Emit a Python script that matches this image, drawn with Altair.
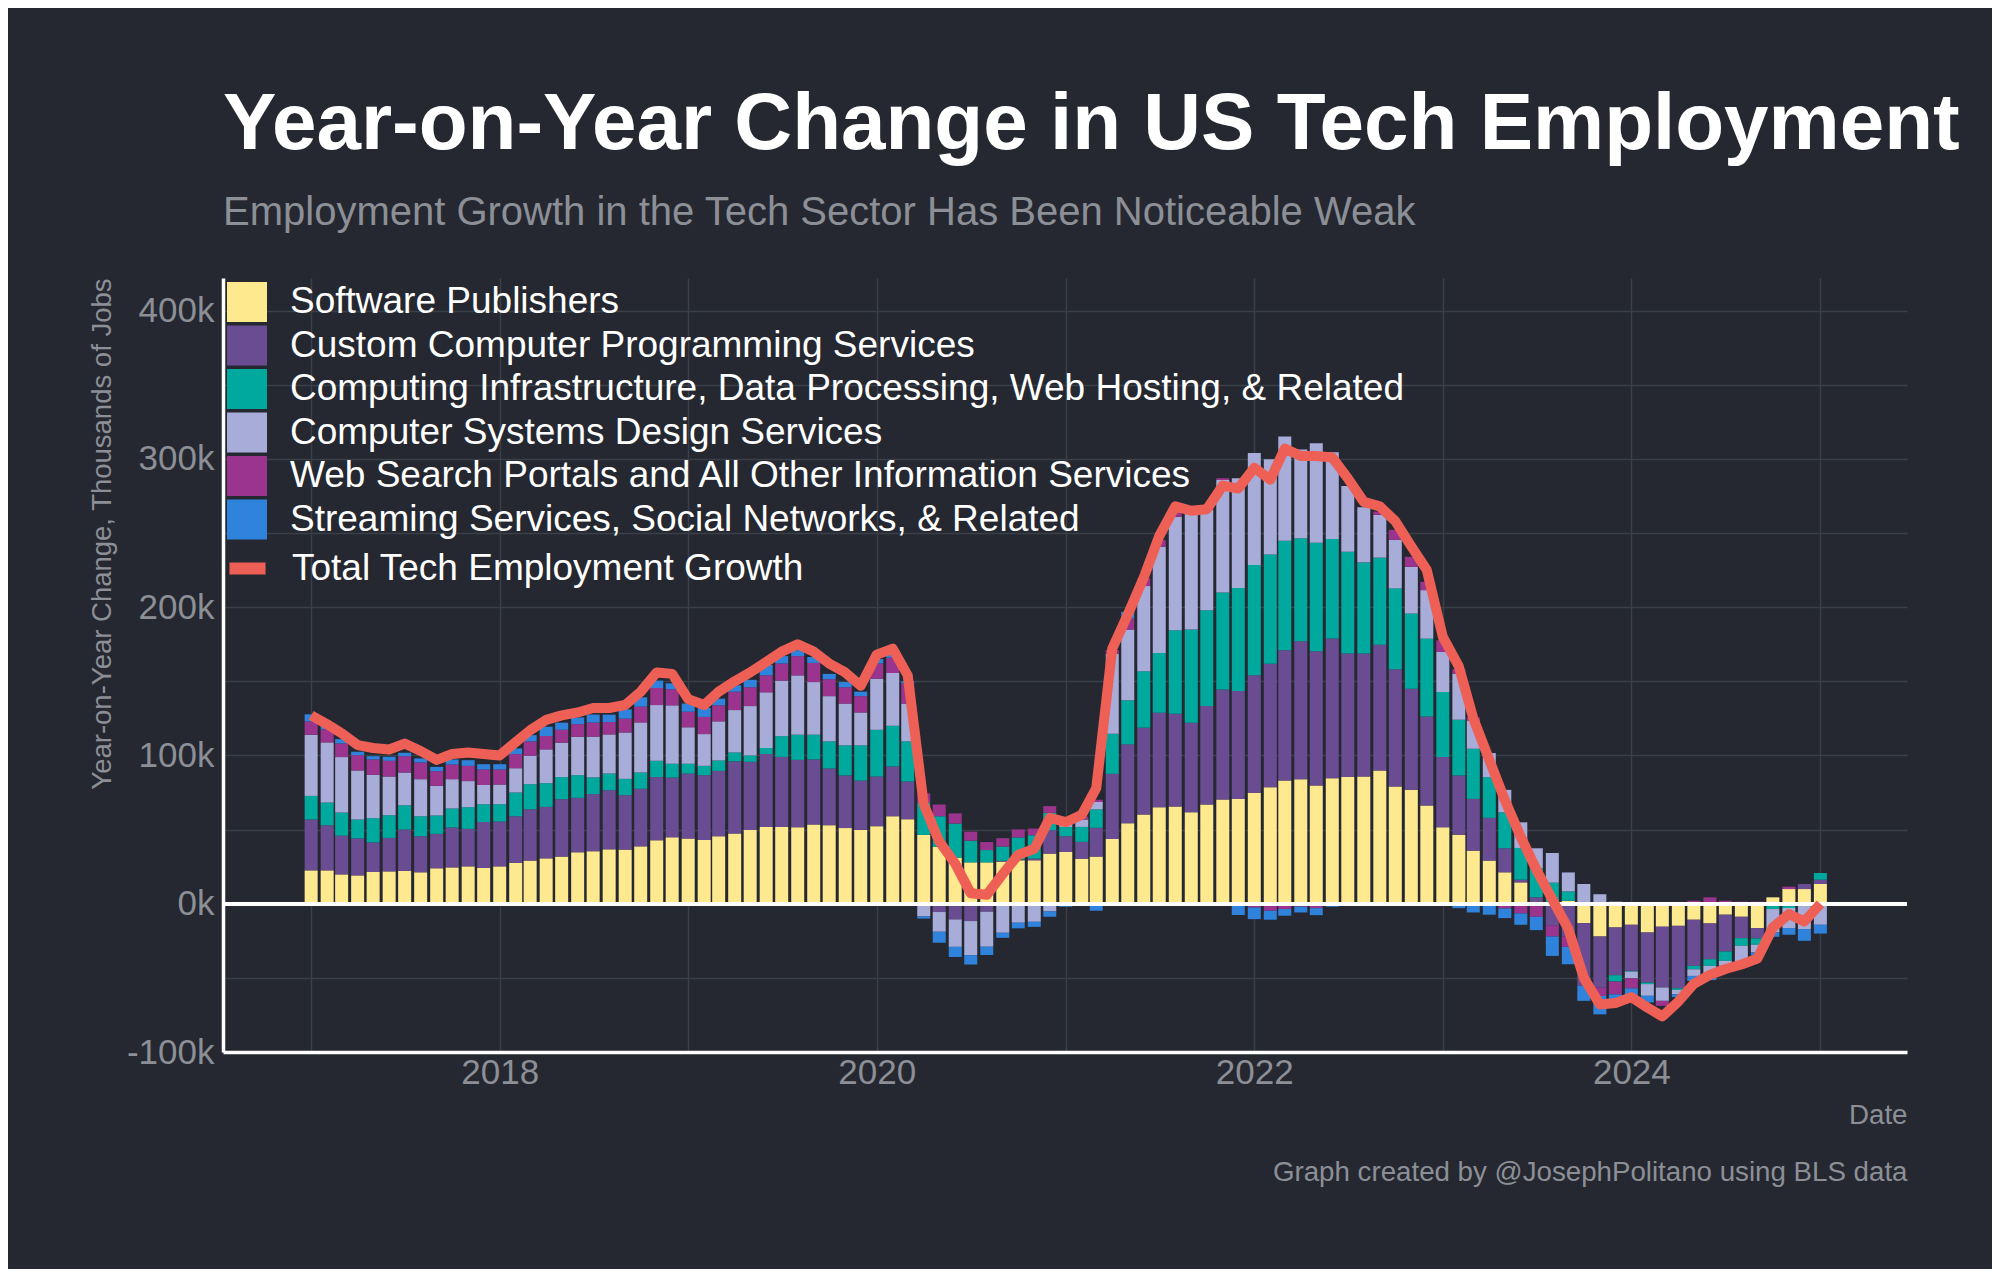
import altair as alt
import pandas as pd

# Monthly observations, Jan 2017 .. Jan 2025
months = pd.date_range("2017-01-01", "2025-01-01", freq="MS").strftime("%Y-%m-%d").tolist()

# Year-on-year change, thousands of jobs
software = [
    22.5, 22.5, 19.8, 19.1, 21.4, 21.8, 22.1, 21.2, 23.9, 24.5, 25.2, 24.1,
    25.2, 27.5, 29.1, 30.6, 31.8, 34.7, 35.4, 36.7, 36.5, 38.7, 42.8, 44.8,
    44.0, 43.0, 45.5, 47.3, 49.8, 51.8, 51.8, 51.6, 53.4, 53.0, 51.0, 49.8,
    52.3, 59.0, 57.0, 46.4, 38.3, 31.1, 27.9, 27.9, 28.4, 29.3, 29.3, 33.8,
    34.9, 30.4, 31.8, 43.7, 54.3, 60.1, 65.1, 65.5, 61.7, 66.9, 70.3, 70.7,
    74.8, 78.6, 83.1, 84.0, 79.7, 84.7, 85.4, 85.8, 89.9, 79.1, 76.8, 66.2,
    51.6, 46.6, 35.8, 29.1, 21.2, 14.4, 1.4, 0.5, 2.0, -13.1, -22.1, -16.0,
    -14.2, -19.4, -15.5, -14.9, -10.8, -13.3, -7.4, -8.8, -16.4, 4.3, 9.9, 9.9,
    13.3,
]
custom_programming = [
    34.3, 30.4, 26.1, 25.0, 20.0, 22.6, 27.9, 24.3, 23.2, 26.9, 25.3, 31.1,
    30.2, 31.5, 34.6, 34.7, 38.7, 36.7, 38.5, 39.9, 36.7, 38.8, 42.6, 40.3,
    43.8, 43.7, 44.1, 48.7, 45.9, 49.2, 47.2, 45.4, 43.9, 38.2, 35.5, 33.2,
    33.5, 33.6, 25.4, -1.5, -5.6, -10.6, -11.7, -5.4, 0.5, 0.5, 1.1, 15.8,
    10.6, 11.3, 19.4, 43.9, 53.2, 58.6, 63.7, 62.6, 60.4, 66.4, 74.1, 72.7,
    79.3, 83.3, 87.8, 93.0, 90.5, 94.1, 83.3, 82.9, 84.7, 79.1, 68.2, 60.1,
    47.3, 39.9, 34.9, 28.8, 16.2, 1.8, 2.9, -14.9, -22.3, -42.3, -34.5, -32.2,
    -31.1, -33.8, -41.0, -42.1, -31.1, -24.1, -24.8, -14.4, -7.0, 0.0, 0.0, 3.4,
    2.9,
]
infrastructure = [
    15.9, 15.3, 15.6, 12.7, 16.3, 15.3, 16.4, 13.5, 12.4, 12.8, 14.6, 11.9,
    11.7, 16.0, 16.9, 16.0, 14.9, 15.3, 11.3, 11.2, 11.0, 11.0, 11.0, 9.3,
    6.6, 6.3, 7.0, 6.0, 4.3, 4.0, 14.0, 17.0, 16.7, 18.3, 20.3, 23.8,
    31.5, 27.4, 27.1, 22.0, 20.7, 23.0, 14.6, 8.3, 9.7, 14.9, 15.8, 11.7,
    6.3, 10.1, 12.4, 27.0, 29.7, 38.1, 40.3, 56.3, 62.8, 64.6, 65.5, 69.6,
    74.3, 73.6, 73.9, 69.4, 73.2, 67.1, 68.7, 61.5, 58.8, 54.5, 50.7, 52.5,
    43.9, 37.6, 33.8, 27.5, 24.3, 21.4, 19.6, 13.7, 6.3, 0.0, 0.5, -4.3,
    -0.5, -1.0, 0.0, -1.1, -2.3, -4.5, -6.3, -5.2, -4.3, -3.6, -2.9, 0.0,
    4.5,
]
systems_design = [
    41.3, 40.6, 37.4, 33.1, 29.2, 26.1, 22.1, 25.0, 20.0, 19.8, 17.6, 12.9,
    13.3, 16.4, 19.2, 22.8, 23.2, 25.9, 27.5, 26.4, 31.3, 33.8, 37.6, 39.4,
    24.6, 21.4, 26.4, 28.6, 33.3, 37.6, 37.5, 40.0, 35.5, 30.5, 28.2, 22.2,
    34.5, 35.6, 25.5, -7.0, -13.3, -18.5, -23.0, -23.6, -19.6, -12.8, -12.2, -5.2,
    3.4, 5.0, 5.0, 54.0, 47.7, 57.4, 71.6, 76.6, 77.9, 67.6, 75.9, 73.9,
    75.5, 64.2, 70.3, 60.0, 67.1, 58.6, 44.4, 37.2, 28.8, 32.7, 31.5, 32.7,
    27.0, 31.1, 19.1, 16.2, 15.1, 17.3, 13.5, 20.0, 12.8, 13.3, 5.9, 1.4,
    -4.5, -7.9, -9.0, -2.9, -4.5, -5.6, -3.4, -11.3, -5.2, -15.8, -13.5, -17.1,
    -14.2,
]
web_search = [
    9.0, 8.8, 9.2, 10.3, 10.4, 10.6, 11.0, 11.3, 9.9, 9.9, 10.3, 10.5,
    10.1, 9.5, 9.7, 9.0, 8.7, 8.5, 9.5, 8.3, 9.3, 10.6, 11.5, 10.8,
    10.5, 11.6, 10.8, 12.4, 12.7, 11.4, 11.5, 13.0, 12.9, 11.4, 11.0, 11.0,
    10.2, 10.4, 13.6, 6.0, 7.9, 6.8, 6.1, 5.4, 5.6, 5.4, 4.5, 4.5,
    2.5, 2.0, 1.5, 2.5, 7.4, 5.2, 4.5, 4.1, 1.0, 2.0, 1.2, -1.3,
    -2.5, -4.7, -3.6, -2.0, -3.0, 0.0, 0.0, 0.0, 2.3, 6.8, 6.8, 5.6,
    7.9, 3.0, 2.0, 0.0, -3.2, -6.5, -8.8, -7.2, -6.8, 0.0, -5.6, -8.6,
    -6.8, 0.0, -3.4, 1.0, 2.0, 4.3, 2.0, 1.4, 1.4, 0.0, 1.6, 0.0,
    0.0,
]
streaming = [
    4.7, 4.0, 2.9, 2.3, 2.2, 2.7, 2.3, 2.7, 2.9, 3.4, 3.8, 3.6,
    3.6, 3.8, 4.2, 6.3, 4.8, 4.5, 5.4, 5.0, 6.3, 6.3, 5.0, 4.0,
    5.5, 6.0, 4.5, 4.3, 5.0, 7.0, 5.0, 4.0, 4.0, 3.6, 3.5, 3.0,
    3.0, 2.0, 1.4, -1.5, -7.4, -6.8, -6.3, -5.6, -3.4, -3.8, -3.4, -3.6,
    -2.0, -1.0, -4.7, 0.0, 4.5, 0.0, 0.0, 0.0, 0.0, 0.0, -1.0, -6.3,
    -7.9, -6.1, -4.5, -3.9, -4.7, -2.0, -1.0, -1.3, 0.0, 0.0, 0.0, 0.0,
    0.0, -3.0, -5.9, -7.4, -6.5, -7.7, -9.0, -13.1, -11.7, -10.1, -12.4, -3.4,
    -4.5, -4.5, 0.0, -2.0, -3.4, -4.0, -1.6, -1.0, -2.0, -2.9, -4.5, -7.9,
    -5.9,
]
total = [
    127, 121, 115, 107, 105, 104, 108, 103, 97, 101, 102, 101,
    100, 109, 117, 124, 127, 129, 132, 132, 134, 143, 156, 155,
    138, 134, 143, 150, 156, 163, 170, 175, 170, 162, 156, 147,
    168, 172, 154, 67, 42, 27, 7, 6, 20, 33, 37, 58,
    55, 60, 78, 172, 195, 220, 248, 268, 265, 266, 282, 280,
    294, 286, 307, 302, 302, 301, 287, 271, 268, 258, 241, 225,
    180, 160, 125, 97, 70, 45, 23, 3, -17, -50, -68, -67,
    -63, -70, -76, -66, -54, -48, -44, -41, -37, -16, -7, -12,
    0,
]

series_names = [
    "Software Publishers",
    "Custom Computer Programming Services",
    "Computing Infrastructure, Data Processing, Web Hosting, & Related",
    "Computer Systems Design Services",
    "Web Search Portals and All Other Information Services",
    "Streaming Services, Social Networks, & Related",
]
series_colors = ["#FFE98F", "#6A4C93", "#00A99D", "#A7ACD9", "#9A348E", "#3083DC"]
total_name = "Total Tech Employment Growth"
total_color = "#EE6055"

series_values = [software, custom_programming, infrastructure, systems_design, web_search, streaming]

rows = []
for k, (name, vals) in enumerate(zip(series_names, series_values)):
    for m, v in zip(months, vals):
        rows.append({"month": m, "series": name, "value": v, "rank": k})
bars_df = pd.DataFrame(rows)
line_df = pd.DataFrame({"month": months, "value": total, "series": total_name})

FONT = "Liberation Sans"
BG = "#252831"
GRID = "#3B3F48"
GREY = "#8C8F96"

x_enc = alt.X(
    "month:T",
    scale=alt.Scale(
        type="utc",
        domain=[alt.DateTime(year=2016, month=7, date=24, utc=True),
                alt.DateTime(year=2025, month=6, date=8, utc=True)],
        nice=False,
    ),
    axis=alt.Axis(
        values=[alt.DateTime(year=y, month=1, date=1, utc=True) for y in range(2017, 2026)],
        labelExpr="utcyear(datum.value) % 2 == 0 ? '' + utcyear(datum.value) : ''",
        title=["Date", "Graph created by @JosephPolitano using BLS data"],
        titleAnchor="end",
        titleAlign="right",
        titleLineHeight=57,
        titlePadding=11,
        titleFontSize=27.7,
        labelPadding=3,
    ),
)
y_scale = alt.Scale(domain=[-100, 422], nice=False, zero=False)
y_axis = alt.Axis(
    values=list(range(-100, 401, 50)),
    labelExpr="datum.value % 100 == 0 ? '' + datum.value + 'k' : ''",
    title="Year-on-Year Change, Thousands of Jobs",
    titleAnchor="end",
    titlePadding=10,
    titleFontSize=27.5,
    labelPadding=9,
)

bars = alt.Chart(bars_df).mark_bar(width=13).encode(
    x=x_enc,
    y=alt.Y("sum(value):Q", scale=y_scale, axis=y_axis, stack="zero"),
    color=alt.Color(
        "series:N",
        scale=alt.Scale(domain=series_names, range=series_colors),
        legend=alt.Legend(
            orient="none", legendX=4, legendY=4, title=None,
            symbolType="square", symbolSize=1600, symbolStrokeWidth=0,
            symbolOpacity=1, labelFontSize=37, labelColor="white",
            labelFont=FONT, labelLimit=1500, labelOffset=23,
            rowPadding=3.5, padding=0,
        ),
    ),
    order=alt.Order("rank:Q", sort="ascending"),
)

zero = alt.Chart(line_df).mark_rule(color="white", strokeWidth=3.3).encode(y=alt.datum(0))

line = alt.Chart(line_df).mark_line(strokeWidth=10, strokeJoin="round").encode(
    x="month:T",
    y="value:Q",
    stroke=alt.Stroke(
        "series:N",
        scale=alt.Scale(domain=[total_name], range=[total_color]),
        legend=alt.Legend(
            orient="none", legendX=0, legendY=266, title=None,
            symbolType="stroke", symbolSize=1300, symbolStrokeWidth=12,
            labelFontSize=37, labelColor="white", labelFont=FONT,
            labelLimit=1500, labelOffset=20, padding=0,
        ),
    ),
)

chart = alt.layer(bars, zero, line).resolve_scale(
    color="independent", stroke="independent"
).properties(
    width=1684,
    height=774,
    autosize=alt.AutoSizeParams(type="none"),
    padding={"left": 215, "top": 270, "right": 85, "bottom": 217},
    background=BG,
    title=alt.TitleParams(
        text="Year-on-Year Change in US Tech Employment",
        subtitle="Employment Growth in the Tech Sector Has Been Noticeable Weak",
        anchor="start",
        frame="group",
        font=FONT,
        fontSize=80,
        fontWeight="bold",
        color="white",
        subtitleFont=FONT,
        subtitleFontSize=40,
        subtitleColor=GREY,
        subtitlePadding=27,
        offset=44,
    ),
).configure_view(
    stroke=None
).configure_axis(
    domainColor="white",
    domainWidth=3.5,
    gridColor=GRID,
    gridWidth=1.5,
    ticks=False,
    tickSize=0,
    labelFont=FONT,
    labelFontSize=35,
    labelColor=GREY,
    titleFont=FONT,
    titleFontSize=27,
    titleFontWeight="normal",
    titleColor=GREY,
)

chart.save("out.html", embed_options={"renderer": "svg", "actions": False})
